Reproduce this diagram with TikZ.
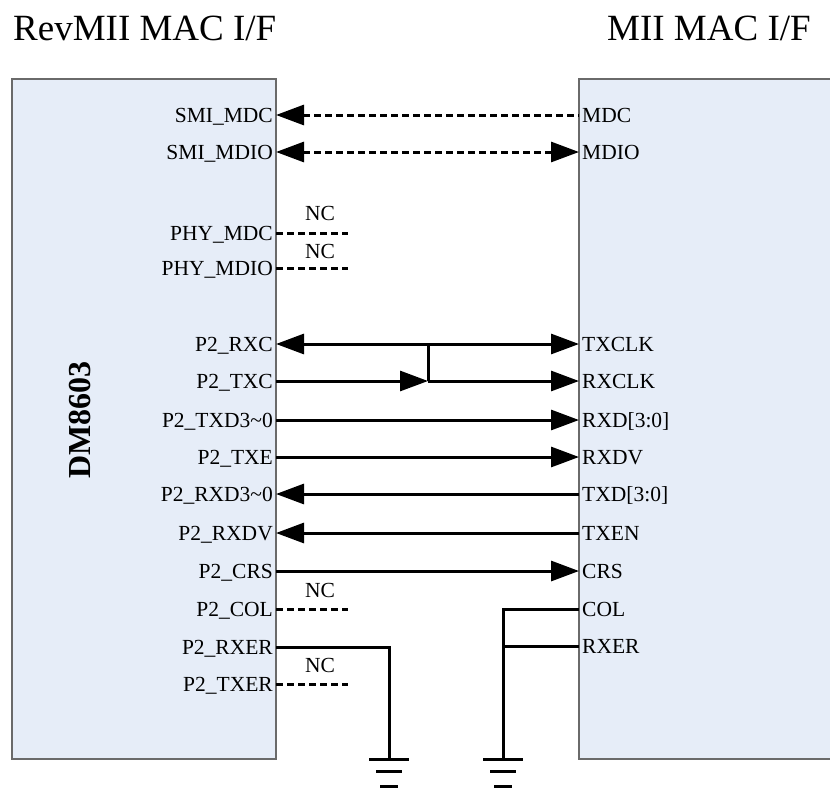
\documentclass[tikz,border=0pt]{standalone}
\usepackage{fontspec}
\setmainfont{Liberation Serif}
\usetikzlibrary{arrows.meta}
\definecolor{chipfill}{HTML}{E6EDF8}
\definecolor{chipline}{HTML}{6A6A6A}
\tikzset{
  chip/.style = {fill = chipfill, draw = chipline, line width = 1.5pt},
  pinL/.style = {anchor = east, inner xsep = 3pt, inner ysep = 0pt, text height = 14pt, text depth = 0pt, font = \fontsize{21.5}{24}\selectfont},
  pinR/.style = {anchor = west, inner xsep = 3pt, inner ysep = 0pt, text height = 14pt, text depth = 0pt, font = \fontsize{21.5}{24}\selectfont},
  nclabel/.style = {font = \fontsize{21.5}{24}\selectfont, inner sep = 0pt},
  sig/.style = {line width = 3pt},
  ncwire/.style = {line width = 3pt, dash pattern = on 7pt off 4pt},
  bigtip/.tip = {Triangle[length = 28pt, width = 20pt]}
}
\begin{document}
\begin{tikzpicture}[x = 1pt, y = -1pt]
				\useasboundingbox (0,0) rectangle (830,788);
				% the two chips
				\draw [chip] (12,79) rectangle (276,759);
				\draw [chip] (579,79) rectangle (834,759);
				\node [anchor = base west, inner sep = 0pt, font = \fontsize{37}{40}\selectfont] (titleL) at (13,40) {RevMII MAC I/F};
				\node [anchor = base west, inner sep = 0pt, font = \fontsize{37}{40}\selectfont] (titleR) at (607,40) {MII MAC I/F};
				\node [rotate = 90, font = \fontsize{32}{34}\selectfont\bfseries] (chipname) at (80,420) {DM8603};
				%
				\node [pinL] (smimdc) at (276,115) {SMI\_MDC};
				\node [pinL] (smimdio) at (276,152) {SMI\_MDIO};
				\node [pinL] (phymdc) at (276,233) {PHY\_MDC};
				\node [pinL] (phymdio) at (276,268) {PHY\_MDIO};
				\node [pinL] (prxc) at (276,344) {P2\_RXC};
				\node [pinL] (ptxc) at (276,381) {P2\_TXC};
				\node [pinL] (ptxd) at (276,420) {P2\_TXD3\textasciitilde0};
				\node [pinL] (ptxe) at (276,457) {P2\_TXE};
				\node [pinL] (prxd) at (276,494) {P2\_RXD3\textasciitilde0};
				\node [pinL] (prxdv) at (276,533) {P2\_RXDV};
				\node [pinL] (pcrs) at (276,571) {P2\_CRS};
				\node [pinL] (pcol) at (276,609) {P2\_COL};
				\node [pinL] (prxer) at (276,647) {P2\_RXER};
				\node [pinL] (ptxer) at (276,684) {P2\_TXER};
				%
				\node [pinR] (mdc) at (579,115) {MDC};
				\node [pinR] (mdio) at (579,152) {MDIO};
				\node [pinR] (txclk) at (579,344) {TXCLK};
				\node [pinR] (rxclk) at (579,381) {RXCLK};
				\node [pinR] (rxd) at (579,420) {RXD[3:0]};
				\node [pinR] (rxdv) at (579,457) {RXDV};
				\node [pinR] (txd) at (579,494) {TXD[3:0]};
				\node [pinR] (txen) at (579,533) {TXEN};
				\node [pinR] (crs) at (579,571) {CRS};
				\node [pinR] (col) at (579,609) {COL};
				\node [pinR] (rxer) at (579,646) {RXER};
				%
				\draw [ncwire, bigtip-] (smimdc.east) -- (mdc.west);
				\draw [ncwire, bigtip-bigtip] (smimdio.east) -- (mdio.west);
				% not connected pins
				\coordinate (ncA) at (348,233);
				\coordinate (ncB) at (348,268);
				\coordinate (ncC) at (348,609);
				\coordinate (ncD) at (348,684);
				\draw [ncwire] (phymdc.east) -- (ncA);
				\draw [ncwire] (phymdio.east) -- (ncB);
				\draw [ncwire] (pcol.east) -- (ncC);
				\draw [ncwire] (ptxer.east) -- (ncD);
				\node [nclabel] (ncAl) at (320,213) {NC};
				\node [nclabel] (ncBl) at (320,251) {NC};
				\node [nclabel] (ncCl) at (320,590) {NC};
				\node [nclabel] (ncDl) at (320,665) {NC};
				% clocks
				\coordinate (clk) at (428,381);
				\draw [sig, -bigtip] (ptxc.east) -- (clk);
				\draw [sig, -bigtip] (clk) -- (rxclk.west);
				\draw [sig, bigtip-bigtip] (prxc.east) -- (txclk.west);
				\draw [sig] (clk) -- (clk |- prxc.east);
				% data
				\draw [sig, -bigtip] (ptxd.east) -- (rxd.west);
				\draw [sig, -bigtip] (ptxe.east) -- (rxdv.west);
				\draw [sig, bigtip-] (prxd.east) -- (txd.west);
				\draw [sig, bigtip-] (prxdv.east) -- (txen.west);
				\draw [sig, -bigtip] (pcrs.east) -- (crs.west);
				% grounds
				\coordinate (gndA) at (389,759);
				\coordinate (gndB) at (503,759);
				\draw [sig] (prxer.east) -| (gndA);
				\draw [sig] (col.west) -| (gndB);
				\draw [sig] (rxer.west) -- (rxer.west -| gndB);
				\foreach \g in {gndA, gndB} {
					\draw [sig] ([shift = {(-20,0)}]\g) -- ([shift = {(20,0)}]\g);
					\draw [sig] ([shift = {(-13,12)}]\g) -- ([shift = {(13,12)}]\g);
					\draw [sig] ([shift = {(-9,27)}]\g) -- ([shift = {(9,27)}]\g);
				}
			\end{tikzpicture}
\end{document}
